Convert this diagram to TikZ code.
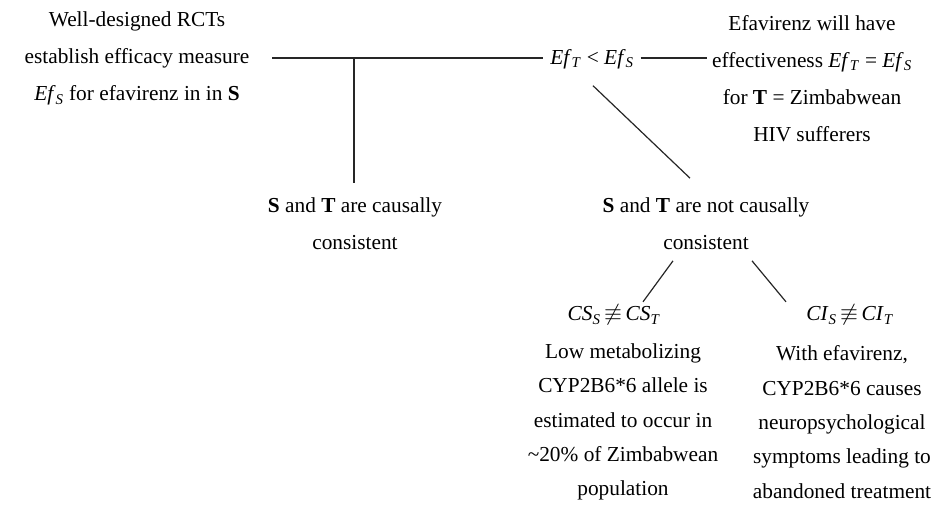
\documentclass[tikz,border=0pt]{standalone}
\usepackage{fontspec}
\setmainfont{Liberation Serif}
\begin{document}
\begin{tikzpicture}[x=0.75pt,y=-0.75pt,
  txt/.style={align=center,inner sep=2pt,font=\fontsize{16}{27.8}\selectfont},
  mid/.style={txt,font=\fontsize{16}{27.6}\selectfont},
  low/.style={txt,font=\fontsize{16}{25.8}\selectfont},
  link/.style={draw=black!85,line width=0.9pt}]
\useasboundingbox (0,0) rectangle (934,507);
\newcommand{\Ef}[1]{\textit{Ef}\textsubscript{\textit{#1}}}
\newcommand{\Sb}{\textbf{S}}
\newcommand{\Tb}{\textbf{T}}

\node[txt] (rct) at (137,58.5) {Well-designed RCTs\\establish efficacy measure\\\Ef{S} for efavirenz in in \Sb};
\node[txt,inner sep=5pt] (ineq) at (592,59) {\Ef{T} < \Ef{S}};
\node[txt] (eff) at (812,78.5) {Efavirenz will have\\effectiveness \Ef{T} = \Ef{S}\\for \Tb{} = Zimbabwean\\HIV sufferers};
\node[mid] (cons) at (355,223.5) {\Sb{} and \Tb{} are causally\\consistent};
\node[mid] (ncons) at (706,224) {\Sb{} and \Tb{} are not causally\\consistent};
\node[txt] (cs) at (614,315) {\textit{CS}\textsubscript{\textit{S}}\,$\not\equiv$\,\textit{CS}\textsubscript{\textit{T}}};
\node[low] (csx) at (623,422) {Low metabolizing\\CYP2B6*6 allele is\\estimated to occur in\\\textasciitilde20\% of Zimbabwean\\population};
\node[txt] (ci) at (850,315) {\textit{CI}\textsubscript{\textit{S}}\,$\not\equiv$\,\textit{CI}\textsubscript{\textit{T}}};
\node[low] (cix) at (842,422) {With efavirenz,\\CYP2B6*6 causes\\neuropsychological\\symptoms leading to\\abandoned treatment};

\coordinate (fork) at (354,58);
\coordinate (lend) at (272,58);
\draw[link] (lend) -- (ineq.west |- fork);
\draw[link] (ineq.east |- fork) -- ([xshift=-2pt]eff.west |- fork);
\draw[link] (fork) -- ([shift={(0,-12)}]fork |- cons.north);
\draw[link] ([shift={(1,10)}]ineq.south) -- ([shift={(-16,-17)}]ncons.north);
\draw[link] ([shift={(-33,8)}]ncons.south) -- ([shift={(29,0)}]cs.north);
\draw[link] ([shift={(46,8)}]ncons.south) -- ([shift={(-64,0)}]ci.north);
\end{tikzpicture}
\end{document}
